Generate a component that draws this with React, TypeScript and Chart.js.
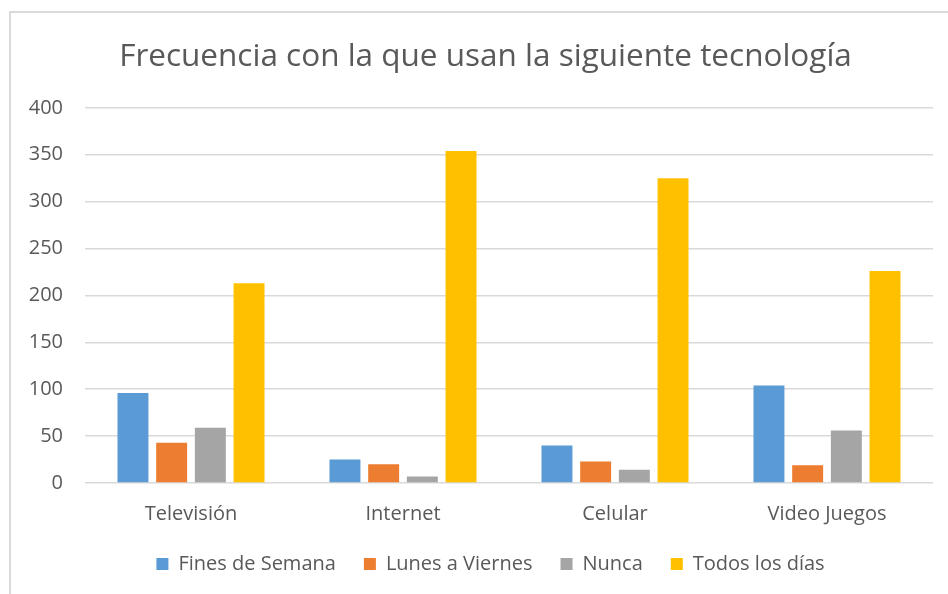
import React, { useEffect, useRef } from "react";
import { Chart, registerables } from "chart.js";

Chart.register(...registerables);

const categories = ["Televisión", "Internet", "Celular", "Video Juegos"];
const finesDeSemana = [96, 25, 40, 104];
const lunesAViernes = [43, 20, 23, 19];
const nunca = [59, 7, 14, 56];
const todosLosDias = [213, 354, 325, 226];
const yTicks = [0, 50, 100, 150, 200, 250, 300, 350, 400];

const FONT = "'Open Sans', 'Noto Sans', sans-serif";
const TEXT = "#595959";

const shiftPlugin = {
  id: "shiftBlocks",
  afterLayout(chart: any) {
    if (chart.titleBlock) {
      chart.titleBlock.left += 9;
      chart.titleBlock.right += 9;
    }
    if (chart.legend) {
      chart.legend.left += 14;
      chart.legend.right += 14;
    }
  },
};

export default function App() {
  const ref = useRef<HTMLCanvasElement | null>(null);

  useEffect(() => {
    if (!ref.current) return;
    const chart = new Chart(ref.current, {
      type: "bar",
      data: {
        labels: categories,
        datasets: [
          { label: "Fines de Semana", data: finesDeSemana, backgroundColor: "#5B9BD5" },
          { label: "Lunes a Viernes", data: lunesAViernes, backgroundColor: "#ED7D31" },
          { label: "Nunca", data: nunca, backgroundColor: "#A5A5A5" },
          { label: "Todos los días", data: todosLosDias, backgroundColor: "#FFC000" },
        ],
      },
      plugins: [shiftPlugin],
      options: {
        animation: false,
        responsive: false,
        maintainAspectRatio: false,
        datasets: { bar: { categoryPercentage: 0.73, barPercentage: 0.8 } },
        layout: { padding: { left: 20, right: 15, top: 20, bottom: 10 } },
        plugins: {
          title: {
            display: true,
            text: "Frecuencia con la que usan la siguiente tecnología",
            color: TEXT,
            font: { family: FONT, size: 31.5, weight: "normal" },
            padding: { top: 18.5, bottom: 31.5 },
          },
          legend: {
            position: "bottom",
            labels: {
              boxWidth: 12,
              boxHeight: 12,
              padding: 28,
              color: TEXT,
              font: { family: FONT, size: 20 },
            },
          },
          tooltip: { enabled: false },
        },
        scales: {
          x: {
            grid: { display: false },
            border: { display: false },
            ticks: { color: TEXT, font: { family: FONT, size: 20 }, padding: 11 },
            afterFit: (s: any) => {
              s.height = s.height - 11;
            },
          },
          y: {
            min: 0,
            max: 400,
            afterBuildTicks: (s: any) => {
              s.ticks = yTicks.map((v) => ({ value: v }));
            },
            afterFit: (s: any) => {
              s.width = 65;
            },
            grid: { color: "#d9d9d9", lineWidth: 1.5, drawTicks: false },
            border: { display: false },
            ticks: { color: TEXT, font: { family: FONT, size: 20 }, padding: 22 },
          },
        },
      },
    });
    return () => chart.destroy();
  }, []);

  return (
    <div style={{ position: "fixed", left: 0, top: 0, width: 948, height: 594, background: "#fff", overflow: "hidden" }}>
      <div
        style={{
          position: "absolute",
          left: 9,
          top: 11,
          width: 960,
          height: 620,
          border: "2px solid #d9d9d9",
          boxSizing: "border-box",
        }}
      />
      <canvas ref={ref} width={948} height={594} style={{ position: "absolute", left: 0, top: 0 }} />
    </div>
  );
}
